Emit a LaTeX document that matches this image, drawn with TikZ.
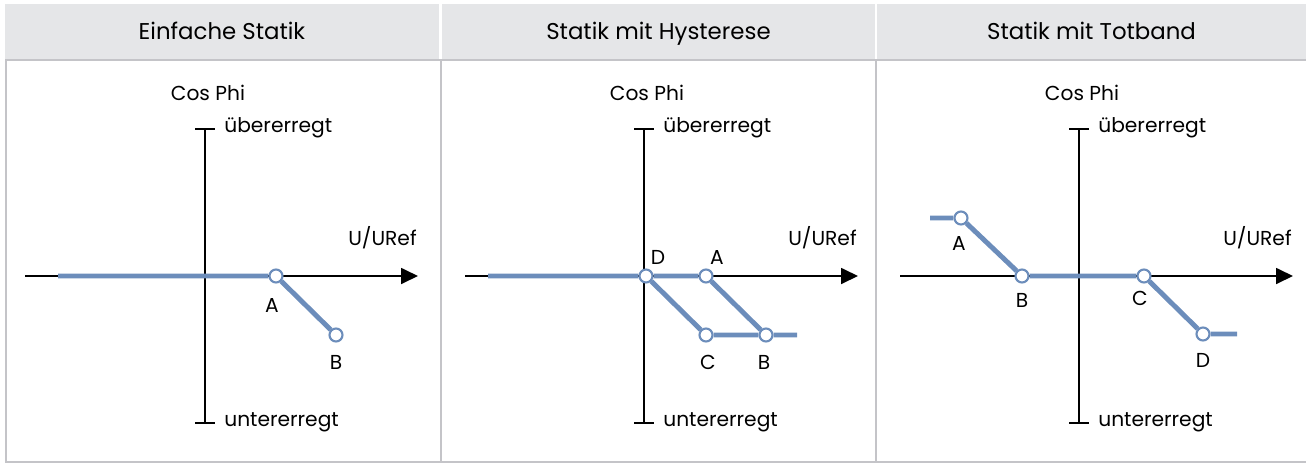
\documentclass[tikz,border=0pt]{standalone}
\usepackage{fontspec}
\setmainfont{Poppins}
\usetikzlibrary{arrows.meta}

\definecolor{headgray}{RGB}{229,230,232}
\definecolor{framegray}{RGB}{196,196,200}
\definecolor{curveblue}{RGB}{108,141,187}

\tikzset{
  header/.style={fill=headgray, inner sep=0pt, minimum height=1.1cm, text height=9pt, text depth=0pt, font=\fontsize{13}{15}\selectfont},
  frame/.style={draw=framegray, line width=1.1pt},
  axisline/.style={line width=1pt},
  axisarrow/.style={line width=1pt, -{Triangle[length=0.34cm, width=0.32cm]}},
  txt/.style={inner sep=0pt, font=\fontsize{11.5}{14}\selectfont},
  curve/.style={draw=curveblue, line width=2.8pt},
  pt/.style={circle, draw=curveblue, fill=white, line width=1.2pt, inner sep=0pt, minimum size=7.4pt}
}

\begin{document}
\begin{tikzpicture}[x=0.02cm, y=-0.02cm]
  \useasboundingbox (0,0) rectangle (1306,464);

  % headers
  \node[header, minimum width=8.68cm] (h1) at (222,31.5) {Einfache Statik};
  \node[header, minimum width=8.66cm] (h2) at (658.5,31.5) {Statik mit Hysterese};
  \node[header, minimum width=8.58cm] (h3) at (1091.5,31.5) {Statik mit Totband};

  % frame
  \draw[frame] (5,60) -- (1306,60);
  \draw[frame] (6,60) -- (6,462) -- (1306,462);
  \draw[frame] (441,60) -- (441,462);
  \draw[frame] (876,60) -- (876,462);

  % Einfache Statik
  \coordinate (x1s) at (25,276);
  \coordinate (x1e) at (418,276);
  \coordinate (y1t) at (205,129);
  \coordinate (y1b) at (205,423);
  \draw[axisarrow] (x1s) -- (x1e);
  \draw[axisline] (y1t) -- (y1b);
  \draw[axisline] ([xshift=-0.2cm]y1t) -- ([xshift=0.2cm]y1t);
  \draw[axisline] ([xshift=-0.2cm]y1b) -- ([xshift=0.2cm]y1b);
  \node[txt] (cos1) at (208,93) {Cos Phi};
  \node[txt, anchor=west] (ueb1) at (224,128) {übererregt};
  \node[txt, anchor=west] (unt1) at (224,422) {untererregt};
  \node[txt, anchor=east] (ur1) at (417,238) {U/URef};
  \coordinate (s1) at (58,276);
  \node[pt] (a1) at (276,276) {};
  \node[pt] (b1) at (336,335) {};
  \node[txt] (la1) at (272,305) {A};
  \node[txt] (lb1) at (336,362) {B};
  \draw[curve] (s1) -- (a1) -- (b1);

  % Statik mit Hysterese
  \coordinate (x2s) at (465,276);
  \coordinate (x2e) at (858,276);
  \coordinate (y2t) at (644,129);
  \coordinate (y2b) at (644,423);
  \draw[axisarrow] (x2s) -- (x2e);
  \draw[axisline] (y2t) -- (y2b);
  \draw[axisline] ([xshift=-0.2cm]y2t) -- ([xshift=0.2cm]y2t);
  \draw[axisline] ([xshift=-0.2cm]y2b) -- ([xshift=0.2cm]y2b);
  \node[txt] (cos2) at (647,93) {Cos Phi};
  \node[txt, anchor=west] (ueb2) at (663,128) {übererregt};
  \node[txt, anchor=west] (unt2) at (663,422) {untererregt};
  \node[txt, anchor=east] (ur2) at (857,238) {U/URef};
  \coordinate (s2) at (488,276);
  \coordinate (e2) at (797,335);
  \node[pt] (d2) at (646,276) {};
  \node[pt] (a2) at (706,276) {};
  \node[pt] (c2) at (706,335) {};
  \node[pt] (b2) at (766,335) {};
  \node[txt] (ld2) at (658,257) {D};
  \node[txt] (la2) at (717,257) {A};
  \node[txt] (lc2) at (708,362) {C};
  \node[txt] (lb2) at (764,362) {B};
  \draw[curve] (s2) -- (d2) -- (a2) -- (b2) -- (e2);
  \draw[curve] (d2) -- (c2) -- (b2);

  % Statik mit Totband
  \coordinate (x3s) at (900,276);
  \coordinate (x3e) at (1293,276);
  \coordinate (y3t) at (1079,129);
  \coordinate (y3b) at (1079,423);
  \draw[axisarrow] (x3s) -- (x3e);
  \draw[axisline] (y3t) -- (y3b);
  \draw[axisline] ([xshift=-0.2cm]y3t) -- ([xshift=0.2cm]y3t);
  \draw[axisline] ([xshift=-0.2cm]y3b) -- ([xshift=0.2cm]y3b);
  \node[txt] (cos3) at (1082,93) {Cos Phi};
  \node[txt, anchor=west] (ueb3) at (1098,128) {übererregt};
  \node[txt, anchor=west] (unt3) at (1098,422) {untererregt};
  \node[txt, anchor=east] (ur3) at (1292,238) {U/URef};
  \coordinate (s3) at (930,218);
  \coordinate (e3) at (1237,334);
  \node[pt] (a3) at (961,218) {};
  \node[pt] (b3) at (1022,276) {};
  \node[pt] (c3) at (1144,276) {};
  \node[pt] (d3) at (1203,334) {};
  \node[txt] (la3) at (959,243) {A};
  \node[txt] (lb3) at (1022,300) {B};
  \node[txt] (lc3) at (1140,298) {C};
  \node[txt] (ld3) at (1203,360) {D};
  \draw[curve] (s3) -- (a3) -- (b3) -- (c3) -- (d3) -- (e3);
\end{tikzpicture}
\end{document}
